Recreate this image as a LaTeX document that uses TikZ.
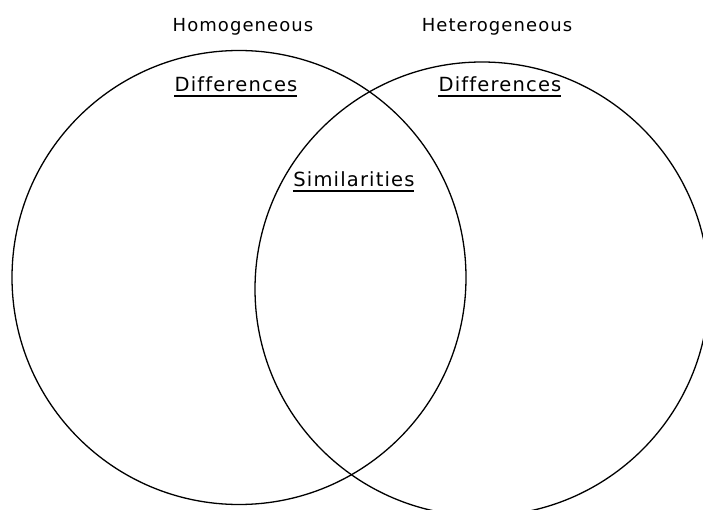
\documentclass[tikz,border=0pt]{standalone}
\usepackage{fontspec}
\setmainfont{DejaVu Sans}[LetterSpace=6,Ligatures=NoCommon]
\tikzset{
  head/.style={font=\fontsize{18}{21}\selectfont,anchor=base,inner sep=0pt},
  lbl/.style={font=\fontsize{19.5}{22}\selectfont,anchor=base,inner sep=0pt},
  ul/.style={line width=1.5pt}
}
\begin{document}
\begin{tikzpicture}[x=1pt,y=-1pt,line width=1.3pt]
 \useasboundingbox (0,0) rectangle (703,510);
 \clip (0,0) rectangle (703,510);
 % the two sets
 \draw (239,277.5) circle[radius=227];
 \draw (482,289) circle[radius=227];
 % headings
 \node[head] (homo) at (243,32) {Homogeneous};
 \node[head] (hetero) at (497,32) {Heterogeneous};
 % labels inside
 \node[lbl] (diffl) at (236,92) {Differences};
 \node[lbl] (diffr) at (500,92) {Differences};
 \node[lbl] (simil) at (354,187) {Similarities};
 \foreach \n in {diffl,diffr,simil}
  \draw[ul] ([yshift=-4pt]\n.base west) -- ([yshift=-4pt,xshift=-1pt]\n.base east);
\end{tikzpicture}
\end{document}
